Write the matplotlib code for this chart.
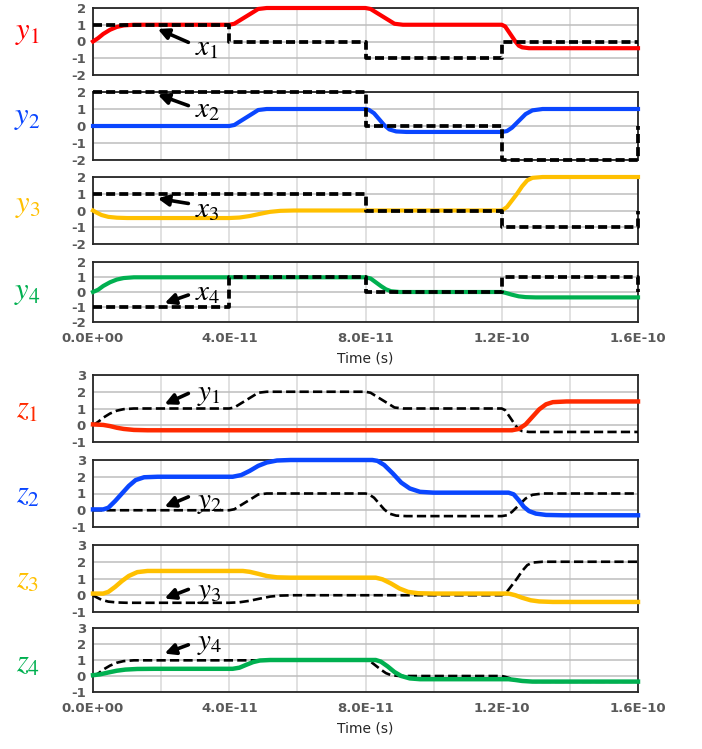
import numpy as np
import matplotlib
matplotlib.use("Agg")
import matplotlib.pyplot as plt
from matplotlib.ticker import MultipleLocator

# Time axis values are in units of 1e-11 s.
T = 1e-11

# Inputs x1..x4 (step signals, dashed in upper block).
x1_t = [0, 4, 4, 8, 8, 12, 12, 16]
x1_v = [1, 1, 0, 0, -1, -1, 0, 0]
x2_t = [0, 8, 8, 12, 12, 16, 16]
x2_v = [2, 2, 0, 0, -2, -2, 0]
x3_t = [0, 8, 8, 12, 12, 16, 16]
x3_v = [1, 1, 0, 0, -1, -1, 0]
x4_t = [0, 4, 4, 8, 8, 12, 12, 16, 16]
x4_v = [-1, -1, 1, 1, 0, 0, 1, 1, 0]

# Outputs y1..y4 (upper block, also dashed references in lower block).
y1_t = [0, 0.15, 0.3, 0.5, 0.7, 0.9, 1.2, 4.0, 4.15, 4.3, 4.5, 4.7, 4.85, 5.1,
        8.0, 8.15, 8.3, 8.5, 8.7, 8.85, 9.1, 12.0, 12.1, 12.2, 12.3, 12.4, 12.5,
        12.6, 12.8, 16]
y1_v = [0, 0.2, 0.45, 0.7, 0.87, 0.96, 1.0, 1.0, 1.06, 1.25, 1.5, 1.75, 1.94, 2.0,
        2.0, 1.94, 1.75, 1.5, 1.25, 1.06, 1.0, 1.0, 0.9, 0.6, 0.3, 0.0, -0.25,
        -0.35, -0.4, -0.4]
y2_t = [0, 4.0, 4.15, 4.3, 4.5, 4.7, 4.85, 5.1, 8.0, 8.1, 8.25, 8.4, 8.55, 8.7,
        8.9, 9.2, 12.0, 12.15, 12.3, 12.5, 12.7, 12.9, 13.2, 16]
y2_v = [0, 0, 0.06, 0.25, 0.5, 0.75, 0.94, 1.0, 1.0, 0.95, 0.75, 0.4, 0.05, -0.2,
        -0.32, -0.35, -0.35, -0.3, -0.1, 0.3, 0.7, 0.92, 1.0, 1.0]
y3_t = [0, 0.1, 0.25, 0.45, 0.7, 1.0, 4.0, 4.3, 4.6, 4.9, 5.2, 5.5, 5.9, 12.0,
        12.15, 12.3, 12.45, 12.6, 12.75, 12.9, 13.2, 16]
y3_v = [0, -0.12, -0.27, -0.38, -0.43, -0.45, -0.45, -0.42, -0.33, -0.2, -0.08,
        -0.02, 0, 0, 0.2, 0.6, 1.0, 1.45, 1.8, 1.95, 2.0, 2.0]
y4_t = [0, 0.15, 0.3, 0.5, 0.7, 0.9, 1.2, 8.0, 8.15, 8.3, 8.45, 8.6, 8.75, 9.0,
        12.0, 12.1, 12.3, 12.5, 12.7, 13.0, 16]
y4_v = [0, 0.15, 0.4, 0.65, 0.83, 0.93, 0.98, 0.98, 0.9, 0.65, 0.4, 0.18, 0.05, 0,
        0, -0.05, -0.18, -0.29, -0.34, -0.36, -0.36]

# Outputs z1..z4 (lower block).
z1_t = [0, 0.3, 0.5, 0.7, 0.9, 1.2, 1.6, 12.3, 12.5, 12.7, 12.9, 13.1, 13.3, 13.5,
        13.9, 16]
z1_v = [0.05, 0.02, -0.05, -0.15, -0.22, -0.28, -0.3, -0.3, -0.22, 0.05, 0.5, 0.95,
        1.25, 1.38, 1.42, 1.42]
z2_t = [0, 0.3, 0.45, 0.65, 0.85, 1.05, 1.25, 1.5, 1.9, 4.1, 4.35, 4.6, 4.85, 5.1,
        5.4, 5.8, 8.2, 8.35, 8.55, 8.8, 9.05, 9.3, 9.6, 10.0, 12.2, 12.35, 12.5,
        12.65, 12.8, 13.0, 13.3, 13.8, 16]
z2_v = [0.05, 0.05, 0.15, 0.55, 1.0, 1.45, 1.8, 1.97, 2.0, 2.0, 2.1, 2.35, 2.65,
        2.85, 2.97, 3.0, 3.0, 2.95, 2.7, 2.2, 1.65, 1.3, 1.1, 1.05, 1.05, 0.95, 0.6,
        0.2, -0.05, -0.2, -0.28, -0.3, -0.3]
z3_t = [0, 0.3, 0.45, 0.65, 0.85, 1.05, 1.3, 1.6, 4.4, 4.6, 4.85, 5.1, 5.4, 5.8,
        8.3, 8.5, 8.75, 9.0, 9.25, 9.55, 10.0, 12.2, 12.4, 12.6, 12.85, 13.1, 13.5, 16]
z3_v = [0.1, 0.1, 0.2, 0.5, 0.85, 1.15, 1.38, 1.45, 1.45, 1.4, 1.28, 1.15, 1.07,
        1.05, 1.05, 0.95, 0.7, 0.4, 0.2, 0.12, 0.1, 0.1, 0.0, -0.15, -0.3, -0.37,
        -0.4, -0.4]
z4_t = [0, 0.2, 0.45, 0.7, 0.95, 1.3, 1.8, 4.1, 4.3, 4.5, 4.7, 4.9, 5.2, 8.3, 8.45,
        8.65, 8.85, 9.05, 9.3, 9.6, 12.2, 12.4, 12.6, 12.9, 16]
z4_v = [0.05, 0.1, 0.22, 0.33, 0.4, 0.44, 0.45, 0.45, 0.52, 0.7, 0.87, 0.97, 1.0,
        1.0, 0.9, 0.6, 0.25, 0.0, -0.15, -0.2, -0.2, -0.25, -0.31, -0.35, -0.35]

xtick_vals = [0, 4, 8, 12, 16]
xtick_labels = ["0.0E+00", "4.0E-11", "8.0E-11", "1.2E-10", "1.6E-10"]
top_yticks = [-2, -1, 0, 1, 2]
bot_yticks = [-1, 0, 1, 2, 3]

# Arrow annotations: (tip t, tip v, tail t, tail v, text t, text v)
top_notes = [(1.9, 0.75, 2.8, -0.05, 3.0, -0.35),
             (1.9, 1.85, 2.8, 1.2, 3.0, 1.0),
             (1.9, 0.72, 2.8, 0.42, 3.0, 0.1),
             (2.1, -0.75, 2.8, -0.2, 3.0, 0.0)]
bot_notes = [(2.1, 1.25, 2.8, 1.9, 3.05, 1.85),
             (2.1, 0.2, 2.8, 0.8, 3.05, 0.5),
             (2.1, -0.2, 2.8, 0.35, 3.05, 0.2),
             (2.1, 1.4, 2.8, 1.95, 3.05, 2.05)]

colors = ["#ff0000", "#0a46ff", "#ffc000", "#00b050"]
colors_bot = ["#ff2a00", "#0a46ff", "#ffc000", "#00b050"]

plt.rcParams["mathtext.fontset"] = "stix"
plt.rcParams["axes.unicode_minus"] = False

W, H = 702, 749
fig = plt.figure(figsize=(W / 100, H / 100), dpi=100)

left, right = 93, 638
top_boxes = [(8, 75), (92, 160), (177, 244), (262, 322)]
bot_boxes = [(375, 442), (460, 527), (545, 612), (628, 692)]
label_fy_top = [0.63, 0.62, 0.58, 0.5]
label_fy_bot = [0.48, 0.48, 0.48, 0.45]


def make_axes(box):
    t, b = box
    return fig.add_axes([left / W, 1 - b / H, (right - left) / W, (b - t) / H])


def style_axes(ax, yticks, last):
    ax.set_xlim(0, 16 * T)
    ax.set_ylim(yticks[0], yticks[-1])
    ax.set_yticks(yticks)
    ax.set_xticks([v * T for v in xtick_vals])
    ax.xaxis.set_minor_locator(MultipleLocator(2 * T))
    ax.grid(True, axis="y", color="#bdbdbd", lw=1.1, zorder=0)
    ax.grid(True, axis="x", which="both", color="#d9d9d9", lw=1.1, zorder=0)
    ax.set_axisbelow(True)
    ax.tick_params(which="both", length=0, labelsize=9.5, labelcolor="#595959")
    ax.tick_params(axis="y", pad=5)
    ax.tick_params(axis="x", pad=7)
    for lab in ax.get_yticklabels():
        lab.set_fontweight("bold")
    if last:
        ax.set_xticklabels(xtick_labels, fontweight="bold")
        ax.set_xlabel("Time (s)", fontsize=10, color="#262626", labelpad=5)
    else:
        ax.set_xticklabels([])
    for sp in ax.spines.values():
        sp.set_color("#262626")
        sp.set_linewidth(1.3)


def note(ax, n, label):
    tip_t, tip_v, tail_t, tail_v, txt_t, txt_v = n
    ax.annotate("", xy=(tip_t * T, tip_v), xytext=(tail_t * T, tail_v),
                arrowprops=dict(arrowstyle="-|>", color="black", lw=2.6,
                                mutation_scale=16, shrinkA=0, shrinkB=0),
                zorder=6)
    ax.text(txt_t * T, txt_v, label, fontsize=21, ha="left", va="center",
            color="black", zorder=6)


xs = [(x1_t, x1_v), (x2_t, x2_v), (x3_t, x3_v), (x4_t, x4_v)]
ys = [(y1_t, y1_v), (y2_t, y2_v), (y3_t, y3_v), (y4_t, y4_v)]
zs = [(z1_t, z1_v), (z2_t, z2_v), (z3_t, z3_v), (z4_t, z4_v)]

# Upper block: y_i (colour) with input x_i (dashed).
for i in range(4):
    ax = make_axes(top_boxes[i])
    yt, yv = ys[i]
    xt, xv = xs[i]
    ax.plot(np.array(yt) * T, yv, color=colors[i], lw=3.0, zorder=3,
            solid_joinstyle="round", clip_on=False)
    ax.plot(np.array(xt) * T, xv, color="black", lw=2.7, ls=(0, (2.4, 1.1)),
            zorder=4, clip_on=False)
    style_axes(ax, top_yticks, i == 3)
    note(ax, top_notes[i], "$x_{%d}$" % (i + 1))
    ax.text(-0.12, label_fy_top[i], "$y_{%d}$" % (i + 1), transform=ax.transAxes,
            fontsize=22, color=colors[i], ha="center", va="center")

# Lower block: z_i (colour) with y_i (dashed).
for i in range(4):
    ax = make_axes(bot_boxes[i])
    zt, zv = zs[i]
    yt, yv = ys[i]
    ax.plot(np.array(yt) * T, yv, color="black", lw=1.9, ls=(0, (3.5, 1.6)),
            zorder=3, clip_on=False)
    ax.plot(np.array(zt) * T, zv, color=colors_bot[i], lw=3.2, zorder=4,
            solid_joinstyle="round", clip_on=False)
    style_axes(ax, bot_yticks, i == 3)
    note(ax, bot_notes[i], "$y_{%d}$" % (i + 1))
    ax.text(-0.12, label_fy_bot[i], "$z_{%d}$" % (i + 1), transform=ax.transAxes,
            fontsize=22, color=colors_bot[i], ha="center", va="center")

fig.savefig("out.png", dpi=100)
